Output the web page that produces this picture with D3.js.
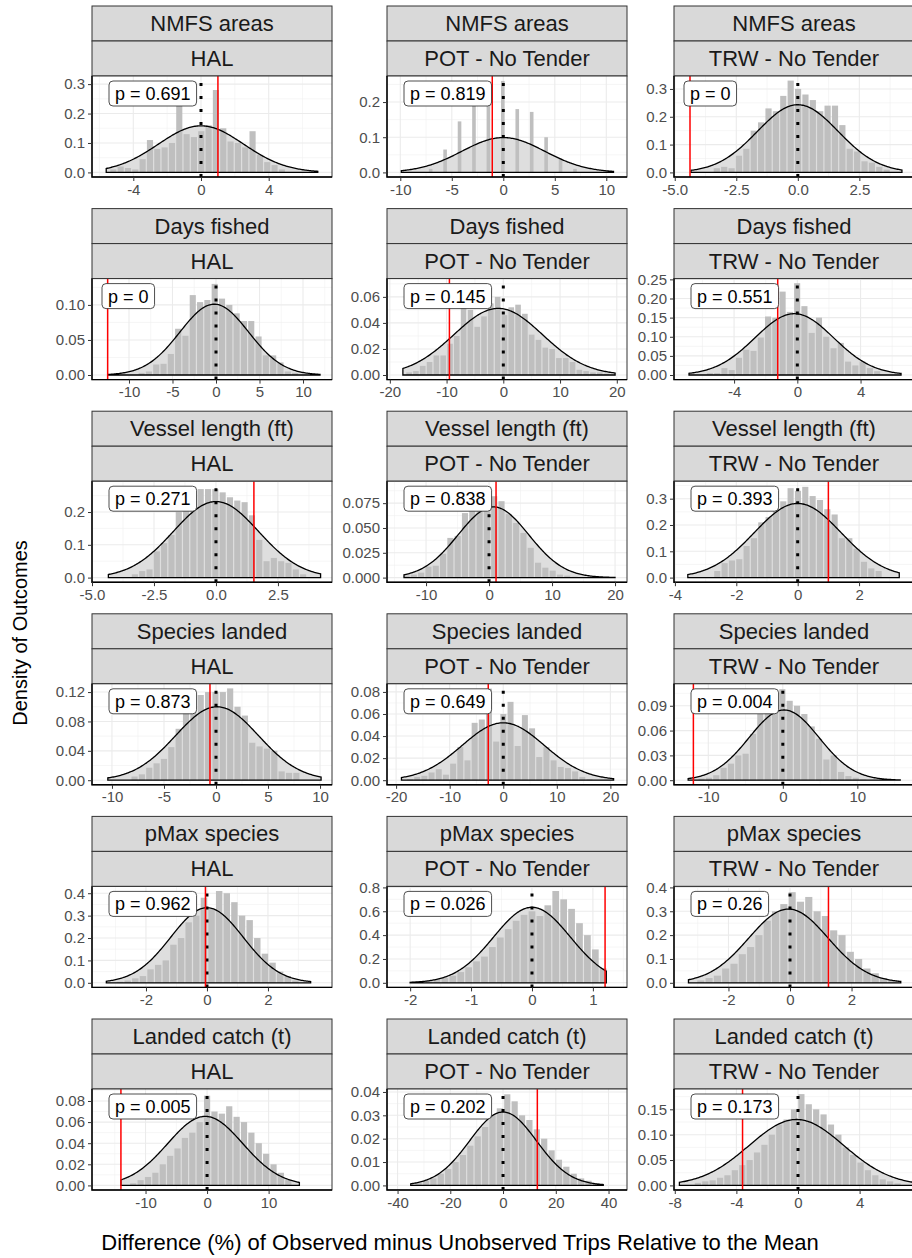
<!DOCTYPE html>
<html>
<head>
<meta charset="utf-8">
<script src="https://cdn.jsdelivr.net/npm/d3@7"></script>
<style>
body { margin: 0; background: #fff; }
text { font-family: "Liberation Sans", Arial, sans-serif; }
</style>
</head>
<body>
<svg id="chart" width="912" height="1258"></svg>
<script>
// facet rows / columns
var variables = ["NMFS areas", "Days fished", "Vessel length (ft)", "Species landed", "pMax species", "Landed catch (t)"];
var gears = ["HAL", "POT - No Tender", "TRW - No Tender"];

// panel values, row by row (HAL, POT, TRW)
var pValues = ["0.691", "0.819", "0", "0", "0.145", "0.551", "0.271", "0.838", "0.393",
               "0.873", "0.649", "0.004", "0.962", "0.026", "0.26", "0.005", "0.202", "0.173"];
var observed = [1.0, -1.07, -4.38, -12.45, -9.5, -1.24, 1.53, 1.11, 1.0,
                -0.58, -2.8, -12.0, -0.05, 1.2, 1.25, -14, 13, -3.6];

var xDomains = [[-6.44, 7.74], [-11.29, 12.01], [-5.03, 4.72],
                [-14.25, 13.33], [-20.5, 21.8], [-7.8, 7.38],
                [-5.0, 4.68], [-16.2, 21.9], [-4.03, 3.79],
                [-11.92, 11.15], [-21.7, 23.1], [-14.6, 17.6],
                [-3.77, 4.1], [-2.38, 1.56], [-3.77, 4.03],
                [-18.7, 20.3], [-44, 47], [-8.05, 7.53]];
var xTicks = [[-4, 0, 4], [-10, -5, 0, 5, 10], [-5, -2.5, 0, 2.5],
              [-10, -5, 0, 5, 10], [-20, -10, 0, 10, 20], [-4, 0, 4],
              [-5, -2.5, 0, 2.5], [-10, 0, 10, 20], [-4, -2, 0, 2],
              [-10, -5, 0, 5, 10], [-20, -10, 0, 10, 20], [-10, 0, 10],
              [-2, 0, 2], [-2, -1, 0, 1], [-2, 0, 2],
              [-10, 0, 10], [-40, -20, 0, 20, 40], [-8, -4, 0, 4]];
var xFormats = ["d", "d", ".1f", "d", "d", "d", ".1f", "d", "d",
                "d", "d", "d", "d", "d", "d", "d", "d", "d"];

var yMaxes = [0.312, 0.261, 0.330, 0.131, 0.0705, 0.24, 0.28, 0.0925, 0.349,
              0.125, 0.0832, 0.111, 0.41, 0.77, 0.385, 0.087, 0.0393, 0.181];
var yTicks = [[0, 0.1, 0.2, 0.3], [0, 0.1, 0.2], [0, 0.1, 0.2, 0.3],
              [0, 0.05, 0.1], [0, 0.02, 0.04, 0.06], [0, 0.05, 0.1, 0.15, 0.2, 0.25],
              [0, 0.1, 0.2], [0, 0.025, 0.05, 0.075], [0, 0.1, 0.2, 0.3],
              [0, 0.04, 0.08, 0.12], [0, 0.02, 0.04, 0.06, 0.08], [0, 0.03, 0.06, 0.09],
              [0, 0.1, 0.2, 0.3, 0.4], [0, 0.2, 0.4, 0.6, 0.8], [0, 0.1, 0.2, 0.3, 0.4],
              [0, 0.02, 0.04, 0.06, 0.08], [0, 0.01, 0.02, 0.03, 0.04], [0, 0.05, 0.1, 0.15]];
var yFormats = [".1f", ".1f", ".1f", ".2f", ".2f", ".2f", ".1f", ".3f", ".1f",
                ".2f", ".2f", ".2f", ".1f", ".1f", ".1f", ".2f", ".2f", ".2f"];

// normal curve fitted to the simulated differences
var curveMean = [0, 0, 0, -0.2, -0.9, -0.19, 0, 0.7, 0,
                 0.1, 0, 0.17, 0, 0, -0.05, -0.3, 0, -0.1];
var curveSd = [2.52, 4.03, 1.64, 3.95, 7.8, 2.49, 1.72, 5.6, 1.415,
               3.99, 7.67, 4.7, 1.19, 0.63, 1.29, 6.1, 12.7, 3.07];
var curveRange = [[-5.6, 6.9], [-9.9, 10.7], [-4.34, 4.23],
                  [-12.4, 11.95], [-17.7, 19.7], [-6.85, 6.56],
                  [-4.34, 4.22], [-13.5, 20], [-3.58, 3.31],
                  [-10.4, 10.1], [-19, 20.6], [-12.7, 15.75],
                  [-3.3, 3.4], [-2.0, 1.22], [-3.3, 3.6],
                  [-14, 15], [-35, 38], [-7.7, 7.6]];

// histogram: centre of first bin, bin width, densities
var binStart = [-5.18, -7.05, -3.29, -8.55, -16.6, -5.53, -3.27, -13.1, -2.62,
                -7.83, -17.4, -10.9, -2.85, -1.95, -2.9, -12, -32, -6.5];
var binWidth = [0.433, 0.467, 0.3, 0.84, 1.2, 0.46, 0.295, 1.16, 0.239,
                0.707, 1.34, 0.985, 0.25, 0.13, 0.27, 1.2, 2.8, 0.48];
var binHeights = [
  [0.01, 0.02, 0.015, 0.01, 0.045, 0.11, 0.08, 0.085, 0.10, 0.31, 0.13, 0.12, 0.14, 0.16, 0.28, 0.15, 0.105, 0.10, 0.085, 0.14, 0.06, 0.035, 0.025, 0.01],
  [0.01, 0, 0, 0.065, 0, 0, 0.145, 0, 0, 0.22, 0, 0, 0.235, 0, 0, 0.26, 0, 0, 0.18, 0, 0, 0.172, 0, 0, 0.10, 0, 0, 0.04, 0, 0, 0.01],
  [0.015, 0.02, 0.015, 0.06, 0.085, 0.15, 0.18, 0.23, 0.22, 0.275, 0.33, 0.30, 0.28, 0.26, 0.22, 0.24, 0.24, 0.17, 0.085, 0.075, 0.04, 0.035, 0.02, 0.01],
  [0.003, 0.005, 0.015, 0.016, 0.03, 0.066, 0.056, 0.114, 0.104, 0.107, 0.13, 0.109, 0.10, 0.088, 0.077, 0.077, 0.055, 0.028, 0.028, 0.018, 0.005, 0.003],
  [0.002, 0.003, 0.007, 0.01, 0.015, 0.015, 0.024, 0.03, 0.068, 0.05, 0.037, 0.045, 0.055, 0.06, 0.046, 0.052, 0.054, 0.047, 0.031, 0.027, 0.021, 0.02, 0.013, 0.013, 0.01, 0.004, 0.003, 0.002, 0.002, 0.001],
  [0.005, 0.005, 0.018, 0.013, 0.045, 0.066, 0.063, 0.098, 0.153, 0.15, 0.218, 0.165, 0.24, 0.18, 0.11, 0.15, 0.10, 0.07, 0.084, 0.035, 0.025, 0.035, 0.018, 0.01],
  [0.01, 0.02, 0.025, 0.08, 0.105, 0.13, 0.20, 0.24, 0.25, 0.27, 0.27, 0.27, 0.26, 0.245, 0.235, 0.23, 0.19, 0.115, 0.05, 0.06, 0.05, 0.045, 0.025, 0.01],
  [0.002, 0.003, 0.005, 0.011, 0.012, 0.024, 0.04, 0.042, 0.065, 0.07, 0.075, 0.09, 0.082, 0.077, 0.064, 0.055, 0.045, 0.03, 0.015, 0.01, 0.007, 0.003, 0.002, 0.001],
  [0.025, 0.055, 0.065, 0.07, 0.12, 0.15, 0.21, 0.23, 0.27, 0.29, 0.34, 0.33, 0.345, 0.31, 0.295, 0.26, 0.24, 0.15, 0.15, 0.11, 0.06, 0.035, 0.025],
  [0.005, 0.008, 0.017, 0.023, 0.029, 0.045, 0.07, 0.095, 0.10, 0.116, 0.12, 0.12, 0.12, 0.125, 0.10, 0.088, 0.051, 0.046, 0.043, 0.04, 0.012, 0.01, 0.01],
  [0.001, 0.003, 0.004, 0.007, 0.01, 0.005, 0.015, 0.03, 0.018, 0.052, 0.055, 0.083, 0.035, 0.06, 0.071, 0.031, 0.059, 0.047, 0.021, 0.03, 0.018, 0.012, 0.011, 0.008, 0.003, 0.001],
  [0.002, 0.003, 0.006, 0.015, 0.02, 0.03, 0.032, 0.056, 0.08, 0.09, 0.095, 0.11, 0.096, 0.09, 0.08, 0.065, 0.05, 0.025, 0.03, 0.01, 0.005, 0.003, 0.001],
  [0.005, 0.01, 0.02, 0.03, 0.06, 0.08, 0.1, 0.17, 0.2, 0.27, 0.3, 0.38, 0.33, 0.41, 0.4, 0.36, 0.3, 0.28, 0.2, 0.13, 0.09, 0.05, 0.03, 0.01],
  [0.01, 0.015, 0.02, 0.03, 0.04, 0.06, 0.09, 0.13, 0.18, 0.22, 0.3, 0.38, 0.45, 0.52, 0.57, 0.6, 0.56, 0.65, 0.77, 0.7, 0.62, 0.5, 0.4, 0.28, 0.12],
  [0.01, 0.02, 0.03, 0.06, 0.08, 0.12, 0.15, 0.2, 0.26, 0.3, 0.33, 0.38, 0.34, 0.36, 0.3, 0.28, 0.22, 0.2, 0.13, 0.1, 0.06, 0.04, 0.02, 0.01],
  [0.002, 0.005, 0.008, 0.012, 0.02, 0.028, 0.035, 0.045, 0.05, 0.06, 0.085, 0.07, 0.068, 0.075, 0.065, 0.06, 0.05, 0.04, 0.03, 0.02, 0.012, 0.005],
  [0.001, 0.002, 0.003, 0.005, 0.007, 0.01, 0.013, 0.017, 0.021, 0.025, 0.03, 0.033, 0.039, 0.036, 0.03, 0.028, 0.024, 0.02, 0.015, 0.011, 0.008, 0.005, 0.003, 0.002, 0.001],
  [0.005, 0.008, 0.01, 0.015, 0.02, 0.03, 0.04, 0.05, 0.065, 0.08, 0.1, 0.12, 0.13, 0.15, 0.18, 0.16, 0.15, 0.14, 0.12, 0.1, 0.075, 0.06, 0.045, 0.03, 0.02, 0.012, 0.008, 0.004]
];

// R style numbers: plain hyphen for negatives
var locale = d3.formatLocale({decimal: ".", thousands: ",", grouping: [3], currency: ["", ""], minus: "-"});

var svg = d3.select("#chart");
var colLeft = [92, 387, 674];
var panelW = 240, stripH = 35, plotH = 101, rowStep = 202.6, firstTop = 6;

function dnorm(x, m, s) {
    return Math.exp(-0.5 * Math.pow((x - m) / s, 2)) / (s * Math.sqrt(2 * Math.PI));
}

function minorBreaks(major, domain) {
    var step = major[1] - major[0];
    var out = [];
    for (var v = major[0] - step / 2; v <= domain[1]; v += step) {
        if (v >= domain[0]) out.push(v);
    }
    return out;
}

variables.forEach(function(variable, r) {
    gears.forEach(function(gear, c) {
        var i = r * 3 + c;
        var x0 = colLeft[c];
        var top = firstTop + r * rowStep;
        var pTop = top + 2 * stripH;
        var pBot = pTop + plotH;
        var g = svg.append("g");

        // strips
        [variable, gear].forEach(function(label, k) {
            g.append("rect")
                .attr("x", x0).attr("y", top + k * stripH)
                .attr("width", panelW).attr("height", stripH)
                .attr("fill", "#d9d9d9").attr("stroke", "#333").attr("stroke-width", 1);
            g.append("text")
                .attr("x", x0 + panelW / 2).attr("y", top + k * stripH + stripH / 2 + 7.5)
                .attr("text-anchor", "middle").attr("font-size", 22).attr("fill", "#1a1a1a")
                .text(label);
        });

        var xs = d3.scaleLinear().domain(xDomains[i]).range([x0, x0 + panelW]);
        var ys = d3.scaleLinear().domain([-0.05 * yMaxes[i], 1.05 * yMaxes[i]]).range([pBot, pTop]);

        var clipId = "clip" + i;
        svg.append("clipPath").attr("id", clipId).append("rect")
            .attr("x", x0).attr("y", pTop).attr("width", panelW).attr("height", plotH);

        var body = g.append("g").attr("clip-path", "url(#" + clipId + ")");
        body.append("rect").attr("x", x0).attr("y", pTop)
            .attr("width", panelW).attr("height", plotH).attr("fill", "#fff");

        // grid
        minorBreaks(xTicks[i], xDomains[i]).forEach(function(v) {
            body.append("line").attr("x1", xs(v)).attr("x2", xs(v)).attr("y1", pTop).attr("y2", pBot)
                .attr("stroke", "#f0f0f0").attr("stroke-width", 0.6);
        });
        minorBreaks(yTicks[i], ys.domain()).forEach(function(v) {
            body.append("line").attr("y1", ys(v)).attr("y2", ys(v)).attr("x1", x0).attr("x2", x0 + panelW)
                .attr("stroke", "#f0f0f0").attr("stroke-width", 0.6);
        });
        xTicks[i].forEach(function(v) {
            body.append("line").attr("x1", xs(v)).attr("x2", xs(v)).attr("y1", pTop).attr("y2", pBot)
                .attr("stroke", "#ebebeb").attr("stroke-width", 1.1);
        });
        yTicks[i].forEach(function(v) {
            body.append("line").attr("y1", ys(v)).attr("y2", ys(v)).attr("x1", x0).attr("x2", x0 + panelW)
                .attr("stroke", "#ebebeb").attr("stroke-width", 1.1);
        });

        // normal curve
        var lo = curveRange[i][0], hi = curveRange[i][1];
        var pts = d3.range(0, 201).map(function(k) {
            var x = lo + (hi - lo) * k / 200;
            return [x, dnorm(x, curveMean[i], curveSd[i])];
        });
        var poly = [[lo, 0]].concat(pts).concat([[hi, 0]]);
        var line = d3.line().x(function(d) { return xs(d[0]); }).y(function(d) { return ys(d[1]); });

        body.append("path").attr("d", line(poly) + "Z")
            .attr("fill", "#dedede").attr("stroke", "none");

        // histogram
        var w = binWidth[i];
        body.selectAll("rect.bar")
            .data(binHeights[i])
            .enter().append("rect")
                .attr("class", "bar")
                .attr("x", function(d, k) { return xs(binStart[i] + k * w - w / 2) + 0.6; })
                .attr("width", function() { return Math.max(xs(w) - xs(0) - 1.2, 0.5); })
                .attr("y", function(d) { return ys(d); })
                .attr("height", function(d) { return Math.max(ys(0) - ys(d), 0); })
                .attr("fill", "#bfbfbf");

        body.append("path").attr("d", line(poly) + "Z")
            .attr("fill", "none").attr("stroke", "#000").attr("stroke-width", 1.3);

        // zero line and observed difference
        body.append("line").attr("x1", xs(0)).attr("x2", xs(0)).attr("y1", pBot).attr("y2", pTop)
            .attr("stroke", "#000").attr("stroke-width", 3).attr("stroke-dasharray", "3 10");
        body.append("line").attr("x1", xs(observed[i])).attr("x2", xs(observed[i]))
            .attr("y1", pBot).attr("y2", pTop)
            .attr("stroke", "#ff0000").attr("stroke-width", 1.5);

        // frame
        g.append("rect").attr("x", x0).attr("y", pTop).attr("width", panelW).attr("height", plotH)
            .attr("fill", "none").attr("stroke", "#333").attr("stroke-width", 1);
        g.append("path")
            .attr("d", "M" + x0 + "," + pTop + "V" + pBot + "H" + (x0 + panelW))
            .attr("fill", "none").attr("stroke", "#000").attr("stroke-width", 1.4);

        // axes
        var yAxis = d3.axisLeft(ys).tickValues(yTicks[i]).tickFormat(locale.format(yFormats[i]))
            .tickSize(4).tickPadding(3);
        var ya = g.append("g").attr("transform", "translate(" + x0 + ",0)").call(yAxis);
        var xAxis = d3.axisBottom(xs).tickValues(xTicks[i]).tickFormat(locale.format(xFormats[i]))
            .tickSize(4).tickPadding(3);
        var xa = g.append("g").attr("transform", "translate(0," + pBot + ")").call(xAxis);
        [ya, xa].forEach(function(a) {
            a.select(".domain").remove();
            a.selectAll(".tick line").attr("stroke", "#333").attr("stroke-width", 1);
            a.selectAll(".tick text").attr("font-size", 15).attr("fill", "#4d4d4d")
                .attr("font-family", "Liberation Sans, Arial, sans-serif");
        });

        // p-value label
        var lab = g.append("g");
        var lx = x0 + (pValues[i] === "0" ? 10 : 17);
        var ly = pTop + 5;
        var box = lab.append("rect").attr("y", ly).attr("height", 25).attr("rx", 4)
            .attr("fill", "#fff").attr("stroke", "#222").attr("stroke-width", 0.8);
        var txt = lab.append("text").attr("x", lx + 6).attr("y", ly + 19)
            .attr("font-size", 18).attr("fill", "#000")
            .text("p = " + pValues[i]);
        var tw = txt.node().getComputedTextLength();
        box.attr("x", lx).attr("width", tw + 12);
    });
});

// axis titles
svg.append("text")
    .attr("x", 460).attr("y", 1250)
    .attr("text-anchor", "middle").attr("font-size", 22).attr("fill", "#000")
    .text("Difference (%) of Observed minus Unobserved Trips Relative to the Mean");
svg.append("text")
    .attr("transform", "translate(27,633) rotate(-90)")
    .attr("text-anchor", "middle").attr("font-size", 20).attr("fill", "#000")
    .text("Density of Outcomes");
</script>
</body>
</html>
